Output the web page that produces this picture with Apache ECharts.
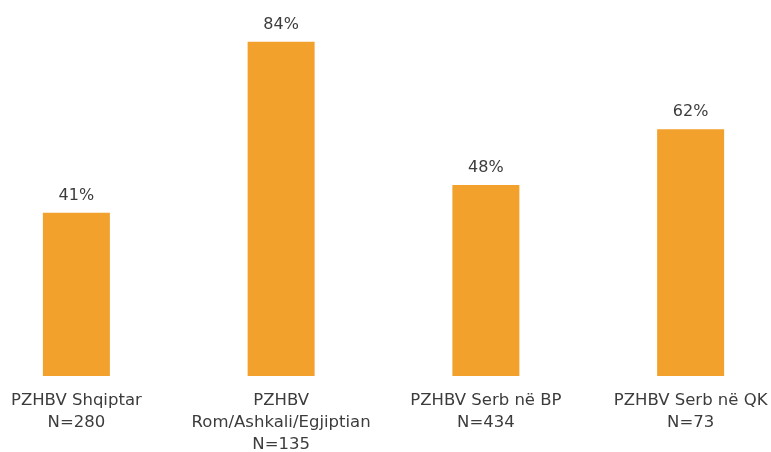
<!DOCTYPE html>
<html>
<head>
<meta charset="utf-8">
<script src="https://cdn.jsdelivr.net/npm/echarts@6/dist/echarts.min.js"></script>
<style>
  html, body { margin: 0; padding: 0; background: #fff; overflow: hidden; width: 771px; height: 452px; }
  /* plot is slightly wider than the page so the outer bars sit near the edges */
  #chart { position: absolute; left: -26px; top: 0; width: 819px; height: 452px; }
</style>
</head>
<body>
<div id="chart"></div>
<script>
// Group labels (name + sample size) and share of respondents, in percent
const categories = [
  'PZHBV Shqiptar\nN=280',
  'PZHBV\nRom/Ashkali/Egjiptian\nN=135',
  'PZHBV Serb në BP\nN=434',
  'PZHBV Serb në QK\nN=73'
];
const shares = [41, 84, 48, 62];

const chart = echarts.init(document.getElementById('chart'), null, { renderer: 'canvas' });
const textColor = '#3c3c3c';
const fontFamily = '"DejaVu Sans", sans-serif';

chart.setOption({
  animation: false,
  grid: { left: 0, right: 0, top: 0, bottom: 76, containLabel: false, outerBoundsMode: 'none' },
  xAxis: {
    type: 'category',
    data: categories,
    axisLine: { show: false },
    axisTick: { show: false },
    axisLabel: {
      color: textColor,
      fontSize: 16.5,
      fontFamily: fontFamily,
      lineHeight: 22,
      margin: 14,
      interval: 0
    }
  },
  yAxis: {
    type: 'value',
    min: 0,
    max: 94.5,
    show: false,
    splitLine: { show: false }
  },
  series: [{
    type: 'bar',
    data: shares,
    barWidth: 67,
    itemStyle: { color: '#F2A12C' },
    label: {
      show: true,
      position: 'top',
      distance: 9,
      color: textColor,
      fontSize: 16,
      fontFamily: fontFamily,
      formatter: p => p.value + '%'
    }
  }]
});
</script>
</body>
</html>
